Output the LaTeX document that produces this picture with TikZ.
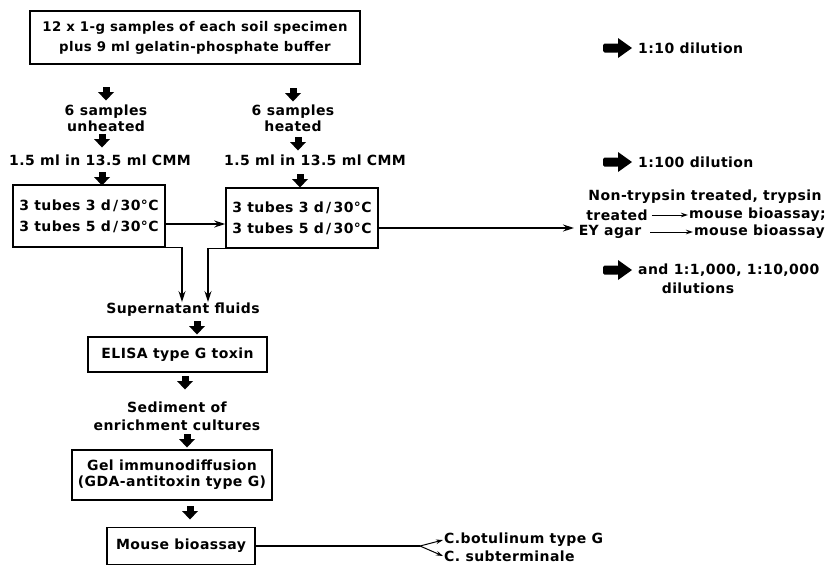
\documentclass[tikz,border=0pt]{standalone}
\usepackage{fontspec}
\setmainfont{DejaVu Sans}[LetterSpace=3]
\usetikzlibrary{arrows.meta,calc}
\newcommand{\fsz}[1]{\bfseries\fontsize{14}{#1}\selectfont}
\begin{document}
\begin{tikzpicture}[x=1pt,y=-1pt,
 every node/.style={font=\fsz{16}, inner sep=1pt, align=center},
 box/.style={draw, line width=1.5pt, inner sep=0pt},
 arr/.style={line width=1.3pt, -{Stealth[length=11pt,width=7pt]}},
 sarr/.style={line width=1pt, -{Stealth[length=7pt,width=4.5pt]}},
 plain/.style={line width=1.3pt},
 fatdown/.pic={\fill (-3.5,0) rectangle (3.5,6); \fill (-8,5) -- (8,5) -- (0,13.5) -- cycle;},
 fatright/.pic={\fill[rounded corners=1.5pt] (0,-4.5) rectangle (16,4.5); \fill (15,-10) -- (15,10) -- (29,0) -- cycle;},
]
\useasboundingbox (0,0) rectangle (825,566);

% top box
\node[box, minimum width=330pt, minimum height=53pt, font=\bfseries\fontsize{13.3}{20}\selectfont] (top) at (195,37.5)
  {12 x 1-g samples of each soil specimen\\plus 9 ml gelatin-phosphate buffer};

% left column
\pic at (106,87) {fatdown};
\node (unh) at (106,118) {6 samples\\unheated};
\pic at (102,134) {fatdown};
\node (cmml) at (100,160) {1.5 ml in 13.5 ml CMM};
\pic at (102,172) {fatdown};
\node[box, minimum width=152pt, minimum height=62pt, font=\fsz{21}] (lbox) at (89,216)
  {3 tubes 3 d\,/\,30°C\\3 tubes 5 d\,/\,30°C};

% right column
\pic at (293,88) {fatdown};
\node (hea) at (293,118) {6 samples\\heated};
\pic at (298,137) {fatdown};
\node (cmmr) at (315,160) {1.5 ml in 13.5 ml CMM};
\pic at (300,174) {fatdown};
\node[box, minimum width=152pt, minimum height=60pt, font=\fsz{21}] (rbox) at (302,218)
  {3 tubes 3 d\,/\,30°C\\3 tubes 5 d\,/\,30°C};

\draw[arr] ([yshift=-8pt]lbox.east) -- ([yshift=-6pt]rbox.west);

% right side notes
\pic at (603,48) {fatright};
\node[anchor=west] (d10) at (637,48) {1:10 dilution};
\pic at (603,162) {fatright};
\node[anchor=west] (d100) at (637,162) {1:100 dilution};

\node (nt1) at (705,197) {Non-trypsin treated, trypsin};
\node (nt2) at (617,215) {treated};
\node[anchor=west] (mb1) at (688,215) {mouse bioassay;};
\draw[sarr] ([xshift=3pt]nt2.east) -- (mb1.west);
\node (ey) at (610,232) {EY agar};
\node[anchor=west] (mb2) at (693,232) {mouse bioassay};
\draw[sarr] ([xshift=8pt]ey.east) -- (mb2.west);
\coordinate (ntin) at (574,228);
\draw[arr] ([yshift=-10pt]rbox.east) -- (ntin);

\pic at (603,270) {fatright};
\node[anchor=west] (d1000) at (637,270) {and 1:1,000, 1:10,000};
\node (dil) at (698,288) {dilutions};

% lower chain
\node (sup) at (183,310) {Supernatant fluids};
\draw[arr] (lbox.south east) -| ([xshift=-1pt]sup.north);
\draw[arr] (rbox.south west) -| ([xshift=25pt]sup.north);
\pic at (197,321) {fatdown};
\node[box, minimum width=179pt, minimum height=35pt] (elisa) at (177.5,354.5) {ELISA type G toxin};
\pic at (185,376) {fatdown};
\node[font=\fsz{18}] (sed) at (177,416) {Sediment of\\enrichment cultures};
\pic at (187,434) {fatdown};
\node[box, minimum width=200pt, minimum height=50pt] (gel) at (172,475)
  {Gel immunodiffusion\\(GDA-antitoxin type G)};
\pic at (190,506) {fatdown};
\node[box, minimum width=148pt, minimum height=37pt] (mouse) at (181,546) {Mouse bioassay};

\coordinate (fork) at (420,546);
\draw[plain] (mouse.east) -- (fork);
\node[anchor=west] (cb) at (443,540) {C.botulinum type G};
\node[anchor=west] (cs) at (443,556) {C. subterminale};
\draw[sarr] (fork) -- (cb.west);
\draw[sarr] (fork) -- (cs.west);
\end{tikzpicture}
\end{document}
